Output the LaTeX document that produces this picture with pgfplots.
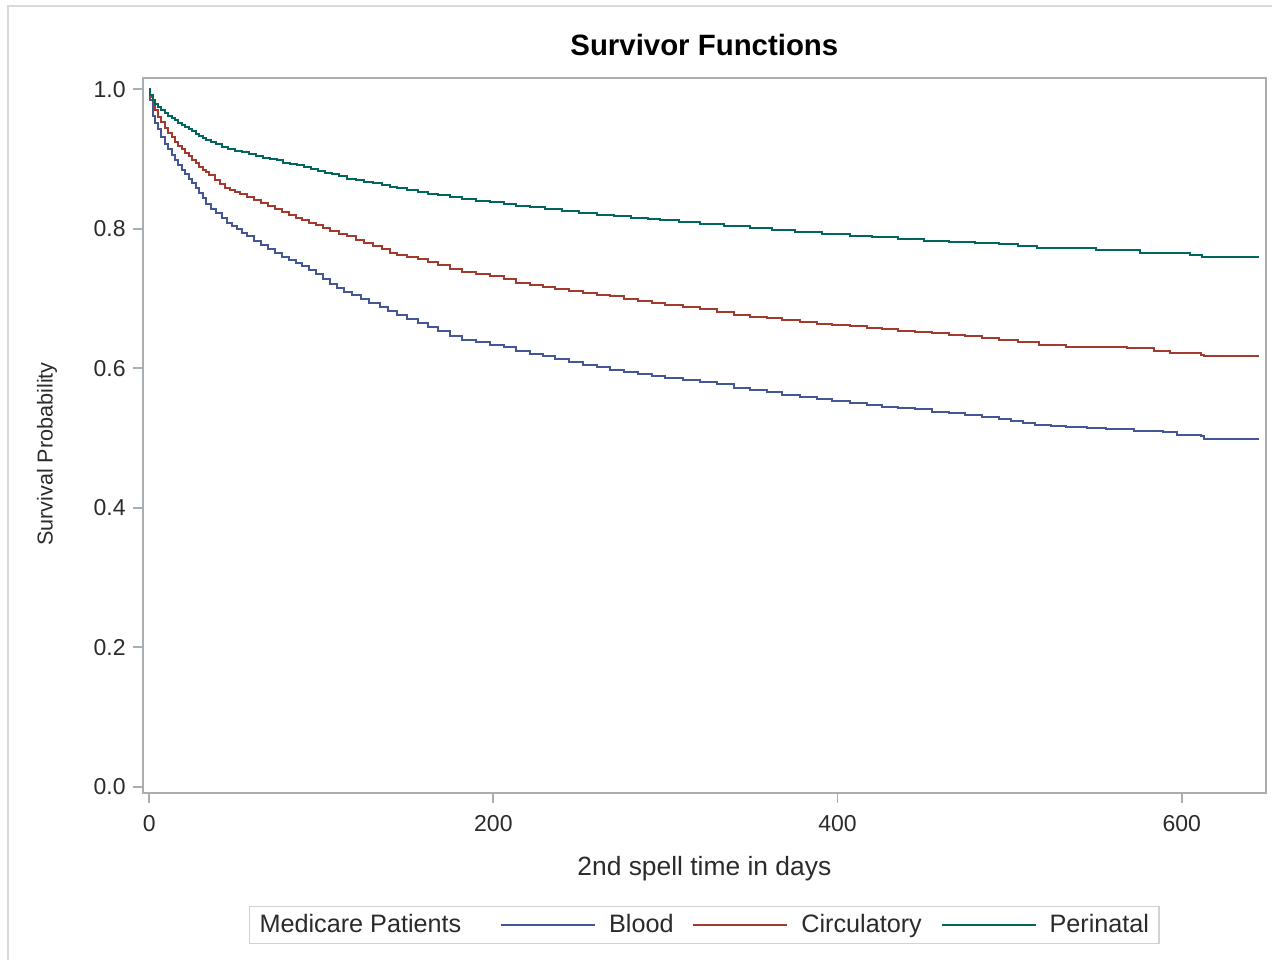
\documentclass[border=0pt]{standalone}
\usepackage{fontspec}
\setmainfont{Liberation Sans}
\usepackage{pgfplots}
\pgfplotsset{compat=1.18}

\definecolor{sasblue}{HTML}{445694}
\definecolor{sasred}{HTML}{A23A2E}
\definecolor{sasgreen}{HTML}{01665E}
\definecolor{framegray}{HTML}{A9AEB3}
\definecolor{txtgray}{HTML}{2B2B2B}

\begin{document}
\begin{tikzpicture}
% page frame (1px = 0.5pt)
\path[use as bounding box] (-71.35pt,-83.65pt) rectangle (564.65pt,396.35pt);
\draw[gray!30, line width=0.8pt] (-67.35pt,-83.65pt) -- (-67.35pt,393.35pt) -- (564.65pt,393.35pt);
\begin{axis}[
 at={(0,0)}, anchor=south west,
 scale only axis,
 width=561.65pt, height=357.2pt,
 xmin=-3.8, xmax=649,
 ymin=-0.0086, ymax=1.0158,
 xtick={0,200,400,600},
 ytick={0,0.2,0.4,0.6,0.8,1.0},
 yticklabel style={/pgf/number format/.cd, fixed, fixed zerofill, precision=1},
 /pgf/number format/assume math mode=true,
 axis line style={framegray, line width=0.9pt},
 tick style={framegray, line width=0.9pt},
 tick align=outside,
 major tick length=5pt,
 xtick pos=bottom, ytick pos=left,
 tick label style={font=\fontsize{11.5}{13}\selectfont, text=txtgray},
 xticklabel style={yshift=-3pt},
 title={\textbf{Survivor Functions}},
 title style={font=\fontsize{14.7}{16}\selectfont, anchor=center, at={(0.5,1)}, yshift=10.5pt},
 xlabel={2nd spell time in days},
 xlabel style={font=\fontsize{13.2}{15}\selectfont, text=txtgray, at={(axis description cs:0.5,0)}, anchor=center, yshift=-38pt},
 ylabel={Survival Probability},
 ylabel style={font=\fontsize{10.8}{12}\selectfont, text=txtgray, at={(axis description cs:-0.0852,0.474)}, anchor=center},
 legend columns=-1,
 legend style={at={(axis description cs:0.5,0)}, anchor=center, yshift=-66.15pt,
   draw=gray!35, line width=0.8pt, font=\fontsize{12.6}{14}\selectfont, text=txtgray,
   /tikz/every even column/.append style={column sep=7.5pt}},
 legend image code/.code={\draw[#1, line width=0.8pt] (0pt,0pt) -- (47pt,0pt);
   \path (51.5pt,0pt);},
 every axis plot/.append style={const plot, line width=1pt},
]
\addlegendimage{empty legend}
\addlegendentry{Medicare Patients\hspace*{10pt}\mbox{}}

% Blood
\addplot[sasblue] coordinates {
(0,1.000) (0.5,0.985) (2,0.962) (3.5,0.951) (5,0.943) (7,0.932) (9,0.922)
(11,0.914) (13,0.906) (15,0.899) (17,0.892) (19,0.885) (21,0.878) (23,0.872)
(25,0.865) (27,0.858) (29,0.851) (31,0.844) (33,0.836) (36,0.829) (39,0.822)
(42,0.815) (45,0.809) (48,0.804) (51,0.799) (54,0.794) (57,0.789) (61,0.783)
(65,0.777) (69,0.771) (73,0.766) (77,0.760) (81,0.755) (85,0.751) (89,0.746)
(93,0.741) (97,0.735) (101,0.728) (105,0.721) (109,0.715) (113,0.710)
(118,0.705) (123,0.700) (128,0.694) (134,0.688) (139,0.682) (144,0.676)
(150,0.670) (156,0.665) (162,0.659) (168,0.653) (175,0.647) (182,0.641)
(190,0.637) (198,0.634) (206,0.630) (213,0.625) (221,0.621) (229,0.617)
(236,0.613) (244,0.609) (252,0.605) (260,0.602) (268,0.598) (276,0.595)
(284,0.592) (292,0.589) (300,0.586) (310,0.583) (320,0.580) (330,0.577)
(340,0.572) (349,0.569) (359,0.566) (368,0.562) (378,0.559) (388,0.556)
(397,0.553) (407,0.550) (417,0.547) (426,0.545) (435,0.543) (445,0.541)
(455,0.538) (465,0.536) (474,0.533) (484,0.530) (494,0.527) (501,0.524)
(508,0.521) (515,0.519) (524,0.517) (533,0.516) (545,0.515) (556,0.513)
(572,0.510) (589,0.508) (597,0.505) (611,0.503) (613,0.499) (645,0.499)
};
\addlegendentry{Blood}

% Circulatory
\addplot[sasred] coordinates {
(0,1.000) (0.5,0.989) (2,0.980) (3.5,0.970) (5,0.961) (7,0.953) (9,0.945)
(11,0.938) (13,0.931) (15,0.925) (17,0.919) (19,0.914) (21,0.909) (23,0.904)
(25,0.899) (27,0.894) (29,0.889) (31,0.885) (33,0.881) (35,0.877) (38,0.870)
(41,0.864) (44,0.859) (47,0.856) (50,0.853) (53,0.850) (57,0.846) (61,0.841)
(65,0.837) (69,0.832) (73,0.828) (77,0.824) (81,0.820) (85,0.816) (89,0.813)
(93,0.809) (97,0.805) (101,0.801) (105,0.797) (110,0.793) (115,0.789)
(120,0.784) (125,0.779) (130,0.775) (135,0.771) (140,0.766) (144,0.762)
(150,0.759) (156,0.756) (162,0.752) (168,0.748) (175,0.743) (182,0.738)
(190,0.735) (198,0.732) (206,0.728) (213,0.723) (221,0.719) (229,0.716)
(236,0.714) (244,0.711) (252,0.708) (260,0.705) (268,0.703) (276,0.700)
(284,0.697) (292,0.694) (300,0.691) (310,0.688) (320,0.685) (330,0.681)
(340,0.677) (349,0.674) (359,0.672) (368,0.669) (378,0.667) (388,0.664)
(397,0.662) (407,0.660) (417,0.658) (426,0.656) (435,0.654) (445,0.652)
(455,0.650) (465,0.648) (474,0.646) (484,0.643) (494,0.641) (505,0.637)
(517,0.633) (533,0.631) (550,0.630) (568,0.629) (584,0.625) (593,0.622)
(611,0.619) (613,0.617) (645,0.617)
};
\addlegendentry{Circulatory}

% Perinatal
\addplot[sasgreen] coordinates {
(0,1.000) (0.5,0.992) (2,0.985) (3.5,0.979) (5,0.975) (7,0.970) (9,0.966)
(11,0.962) (13,0.959) (15,0.956) (17,0.952) (19,0.949) (21,0.946) (23,0.943)
(25,0.940) (27,0.936) (29,0.933) (31,0.930) (33,0.927) (36,0.924) (39,0.921)
(42,0.918) (46,0.915) (50,0.912) (54,0.910) (58,0.907) (62,0.905) (66,0.902)
(70,0.900) (74,0.898) (78,0.895) (82,0.893) (86,0.891) (90,0.888) (94,0.886)
(98,0.883) (102,0.880) (106,0.878) (110,0.875) (115,0.872) (120,0.870)
(125,0.867) (130,0.865) (135,0.863) (140,0.860) (144,0.858) (150,0.855)
(156,0.853) (162,0.850) (168,0.848) (175,0.845) (182,0.843) (190,0.840)
(198,0.838) (206,0.836) (213,0.833) (221,0.831) (230,0.829) (240,0.826)
(250,0.823) (260,0.820) (270,0.818) (280,0.816) (290,0.814) (297,0.812)
(308,0.810) (320,0.807) (334,0.804) (349,0.801) (362,0.798) (375,0.796)
(391,0.793) (407,0.790) (420,0.788) (435,0.785) (450,0.783) (465,0.781)
(480,0.779) (494,0.778) (505,0.775) (516,0.772) (550,0.769) (576,0.766)
(605,0.763) (612,0.760) (645,0.760)
};
\addlegendentry{Perinatal}
\end{axis}
\end{tikzpicture}
\end{document}
